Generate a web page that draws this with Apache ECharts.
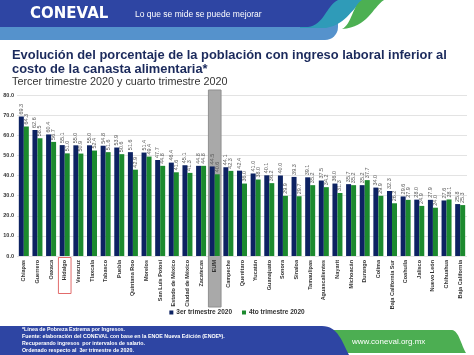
<!DOCTYPE html>
<html><head><meta charset="utf-8">
<script src="https://cdn.jsdelivr.net/npm/echarts@6/dist/echarts.min.js"></script>
<style>html,body{margin:0;padding:0;background:#fff}#c{width:474px;height:355px}</style>
</head><body><div id="c"></div>
<script>
const categories = ['Chiapas','Guerrero','Oaxaca','Hidalgo','Veracruz','Tlaxcala','Tabasco','Puebla','Quintana Roo','Morelos','San Luis Potosí','Estado de México','Ciudad de México','Zacatecas','EUM','Campeche','Querétaro','Yucatán','Guanajuato','Sonora','Sinaloa','Tamaulipas','Aguascalientes','Nayarit','Michoacán','Durango','Colima','Baja California Sur','Coahuila','Jalisco','Nuevo León','Chihuahua','Baja California'];
const q3Values = [69.3,62.6,60.4,55.1,55.0,55.0,54.8,53.9,51.6,51.4,47.7,46.4,45.1,44.8,44.5,44.1,42.4,41.0,40.1,40.0,39.3,39.1,37.5,36.0,35.7,35.2,34.0,32.3,29.6,28.0,27.9,27.6,25.8];
const q4Values = [64.3,58.5,56.7,51.0,50.9,52.4,51.6,50.6,42.9,49.4,44.8,41.6,41.3,44.8,40.6,42.3,36.0,38.0,36.2,29.9,29.7,35.2,34.2,31.3,35.2,37.7,29.9,26.2,27.9,24.9,24.0,28.1,25.3];
const seriesNames = ['3er trimestre 2020','4to trimestre 2020'];
const yMin = 0, yMax = 80, yInterval = 10;
const highlightCategory = 'EUM';
const boxedCategory = 'Hidalgo';
const footnotes = ['*Línea de Pobreza Extrema por Ingresos.','Fuente: elaboración del CONEVAL con base en la ENOE Nueva Edición (ENOEᴺ).','Recuperando ingresos  por intervalos de salario.','Ordenado respecto al  3er trimestre de 2020.'];

const FONT = 'Liberation Sans';

// decorative shape helper: segments of lines [x,y] or cubic beziers [c1x,c1y,c2x,c2y,x,y]
function shapePoints(start, segs) {
  const pts = [start.slice()];
  let cur = start.slice();
  segs.forEach(s => {
    if (s.length === 2) { pts.push(s.slice()); cur = s.slice(); }
    else {
      for (let i = 1; i <= 16; i++) {
        const t = i / 16, u = 1 - t;
        pts.push([
          u*u*u*cur[0] + 3*u*u*t*s[0] + 3*u*t*t*s[2] + t*t*t*s[4],
          u*u*u*cur[1] + 3*u*u*t*s[1] + 3*u*t*t*s[3] + t*t*t*s[5]
        ]);
      }
      cur = [s[4], s[5]];
    }
  });
  return pts;
}

const chart = echarts.init(document.getElementById('c'), null, {renderer:'canvas'});
const barLabel = {
  show: true, position: 'top', rotate: 90, align: 'left', verticalAlign: 'middle', distance: 2,
  fontSize: 5.5, color: '#595959', fontFamily: FONT,
  formatter: p => p.value.toFixed(1)
};
chart.setOption({
  animation: false,
  backgroundColor: '#fff',
  title: {
    text: 'Evolución del porcentaje de la población con ingreso laboral inferior al\ncosto de la canasta alimentaria*',
    subtext: 'Tercer trimestre 2020 y cuarto trimestre 2020',
    left: 12, top: 48, itemGap: 0, padding: 0,
    textStyle: {fontFamily: FONT, fontWeight: 'bold', fontSize: 12.9, color: '#1b2a5c', lineHeight: 14},
    subtextStyle: {fontFamily: FONT, fontSize: 10.8, color: '#333', lineHeight: 12}
  },
  legend: {
    bottom: 34, left: 'center', itemWidth: 4, itemHeight: 4, itemGap: 10,
    icon: 'rect',
    textStyle: {fontFamily: FONT, fontSize: 6.5, fontWeight: 'bold', color: '#333', padding: [0,0,0,-2]},
    data: seriesNames
  },
  grid: {left: 17, right: 7, top: 95, bottom: 99, containLabel: false},
  xAxis: {
    type: 'category', data: categories, z: 3,
    axisLine: {show: false}, axisTick: {show: false},
    axisLabel: {rotate: 90, interval: 0, fontSize: 5.5, fontWeight: 'bold', color: '#333', fontFamily: FONT, margin: 4}
  },
  yAxis: {
    type: 'value', min: yMin, max: yMax, interval: yInterval,
    axisLine: {show: false}, axisTick: {show: false},
    axisLabel: {fontSize: 5.5, fontWeight: 'bold', color: '#333', fontFamily: FONT, margin: 3, formatter: v => v.toFixed(1)},
    splitLine: {lineStyle: {color: '#e3e3e3', width: 1}}
  },
  series: [
    {name: seriesNames[0], type: 'bar', data: q3Values, barWidth: 5, barGap: '0%', itemStyle: {color: '#0d2262'}, label: barLabel},
    {name: seriesNames[1], type: 'bar', data: q4Values, barWidth: 5, itemStyle: {color: '#1c8a2e'}, label: barLabel}
  ],
  graphic: [
    {type:'rect', id:'hdrLight', shape:{x:0,y:0,width:338,height:40,r:[0,0,13,0]}, style:{fill:'#5592cc'}},
    {type:'polygon', id:'hdrTeal', shape:{points: shapePoints([300,0], [[366,0],[352,6,348,24,326,28],[300,28]])}, style:{fill:'#2f9bb8'}},
    {type:'polygon', id:'hdrGreen', shape:{points: shapePoints([362,0], [[384,0],[372,8,368,27,342,29],[352,24,352,6,362,0]])}, style:{fill:'#4cb052'}},
    {type:'polygon', id:'hdrBlue', shape:{points: shapePoints([0,0], [[338,0],[326,6,324,25,308,27],[0,27]])}, style:{fill:'#2e45a3'}},
    {type:'text', id:'logo', x: 30, y: 14, style:{text:'CONEVAL', fill:'#fff', font:'900 15px "DejaVu Sans"', textVerticalAlign:'middle'}},
    {type:'text', id:'tagline', x: 135, y: 15, style:{text:'Lo que se mide se puede mejorar', fill:'#fff', font:'8.5px "Liberation Sans"', textVerticalAlign:'middle'}},
    {type:'polygon', id:'ftrGreen', shape:{points: shapePoints([330,330], [[452,330],[459,331,461,345,466,353],[340,353]])}, style:{fill:'#4cae52'}},
    {type:'polygon', id:'ftrBlue', shape:{points: shapePoints([0,326], [[322,326],[338,326,342,342,349,355],[0,355]])}, style:{fill:'#2e45a3'}},
    {type:'text', id:'url', x: 352, y: 342, style:{text:'www.coneval.org.mx', fill:'#fff', font:'8px "Liberation Sans"', textVerticalAlign:'middle'}},
    {type:'text', id:'notes', x: 22, y: 326.5, style:{text: footnotes.join('\n'), fill:'#fff', font:'bold 5.3px "Liberation Sans"', lineHeight: 7}}
  ]
});

// place the highlight and box around categories using the axis scale
const ex = chart.convertToPixel({xAxisIndex: 0}, highlightCategory);
const ex2 = chart.convertToPixel({xAxisIndex: 0}, categories[categories.indexOf(highlightCategory) + 1]);
const bandW = ex2 - ex;
const hx = chart.convertToPixel({xAxisIndex: 0}, boxedCategory);
const yTop = chart.convertToPixel({yAxisIndex: 0}, yMax);
const yZero = chart.convertToPixel({yAxisIndex: 0}, yMin);
chart.setOption({
  graphic: [
    {type:'rect', id:'eumBox', z: 1, shape:{x: ex - bandW/2 + 0.5, y: yTop - 5, width: bandW - 1, height: 217}, style:{fill:'#a9a9a9', stroke:'#8f8f8f', lineWidth: 1}},
    {type:'rect', id:'hidBox', z: 5, shape:{x: hx - bandW/2 + 0.5, y: yZero + 1.5, width: bandW - 1, height: 36}, style:{fill:'none', stroke:'#e26b6b', lineWidth: 1}}
  ]
});
</script></body></html>
